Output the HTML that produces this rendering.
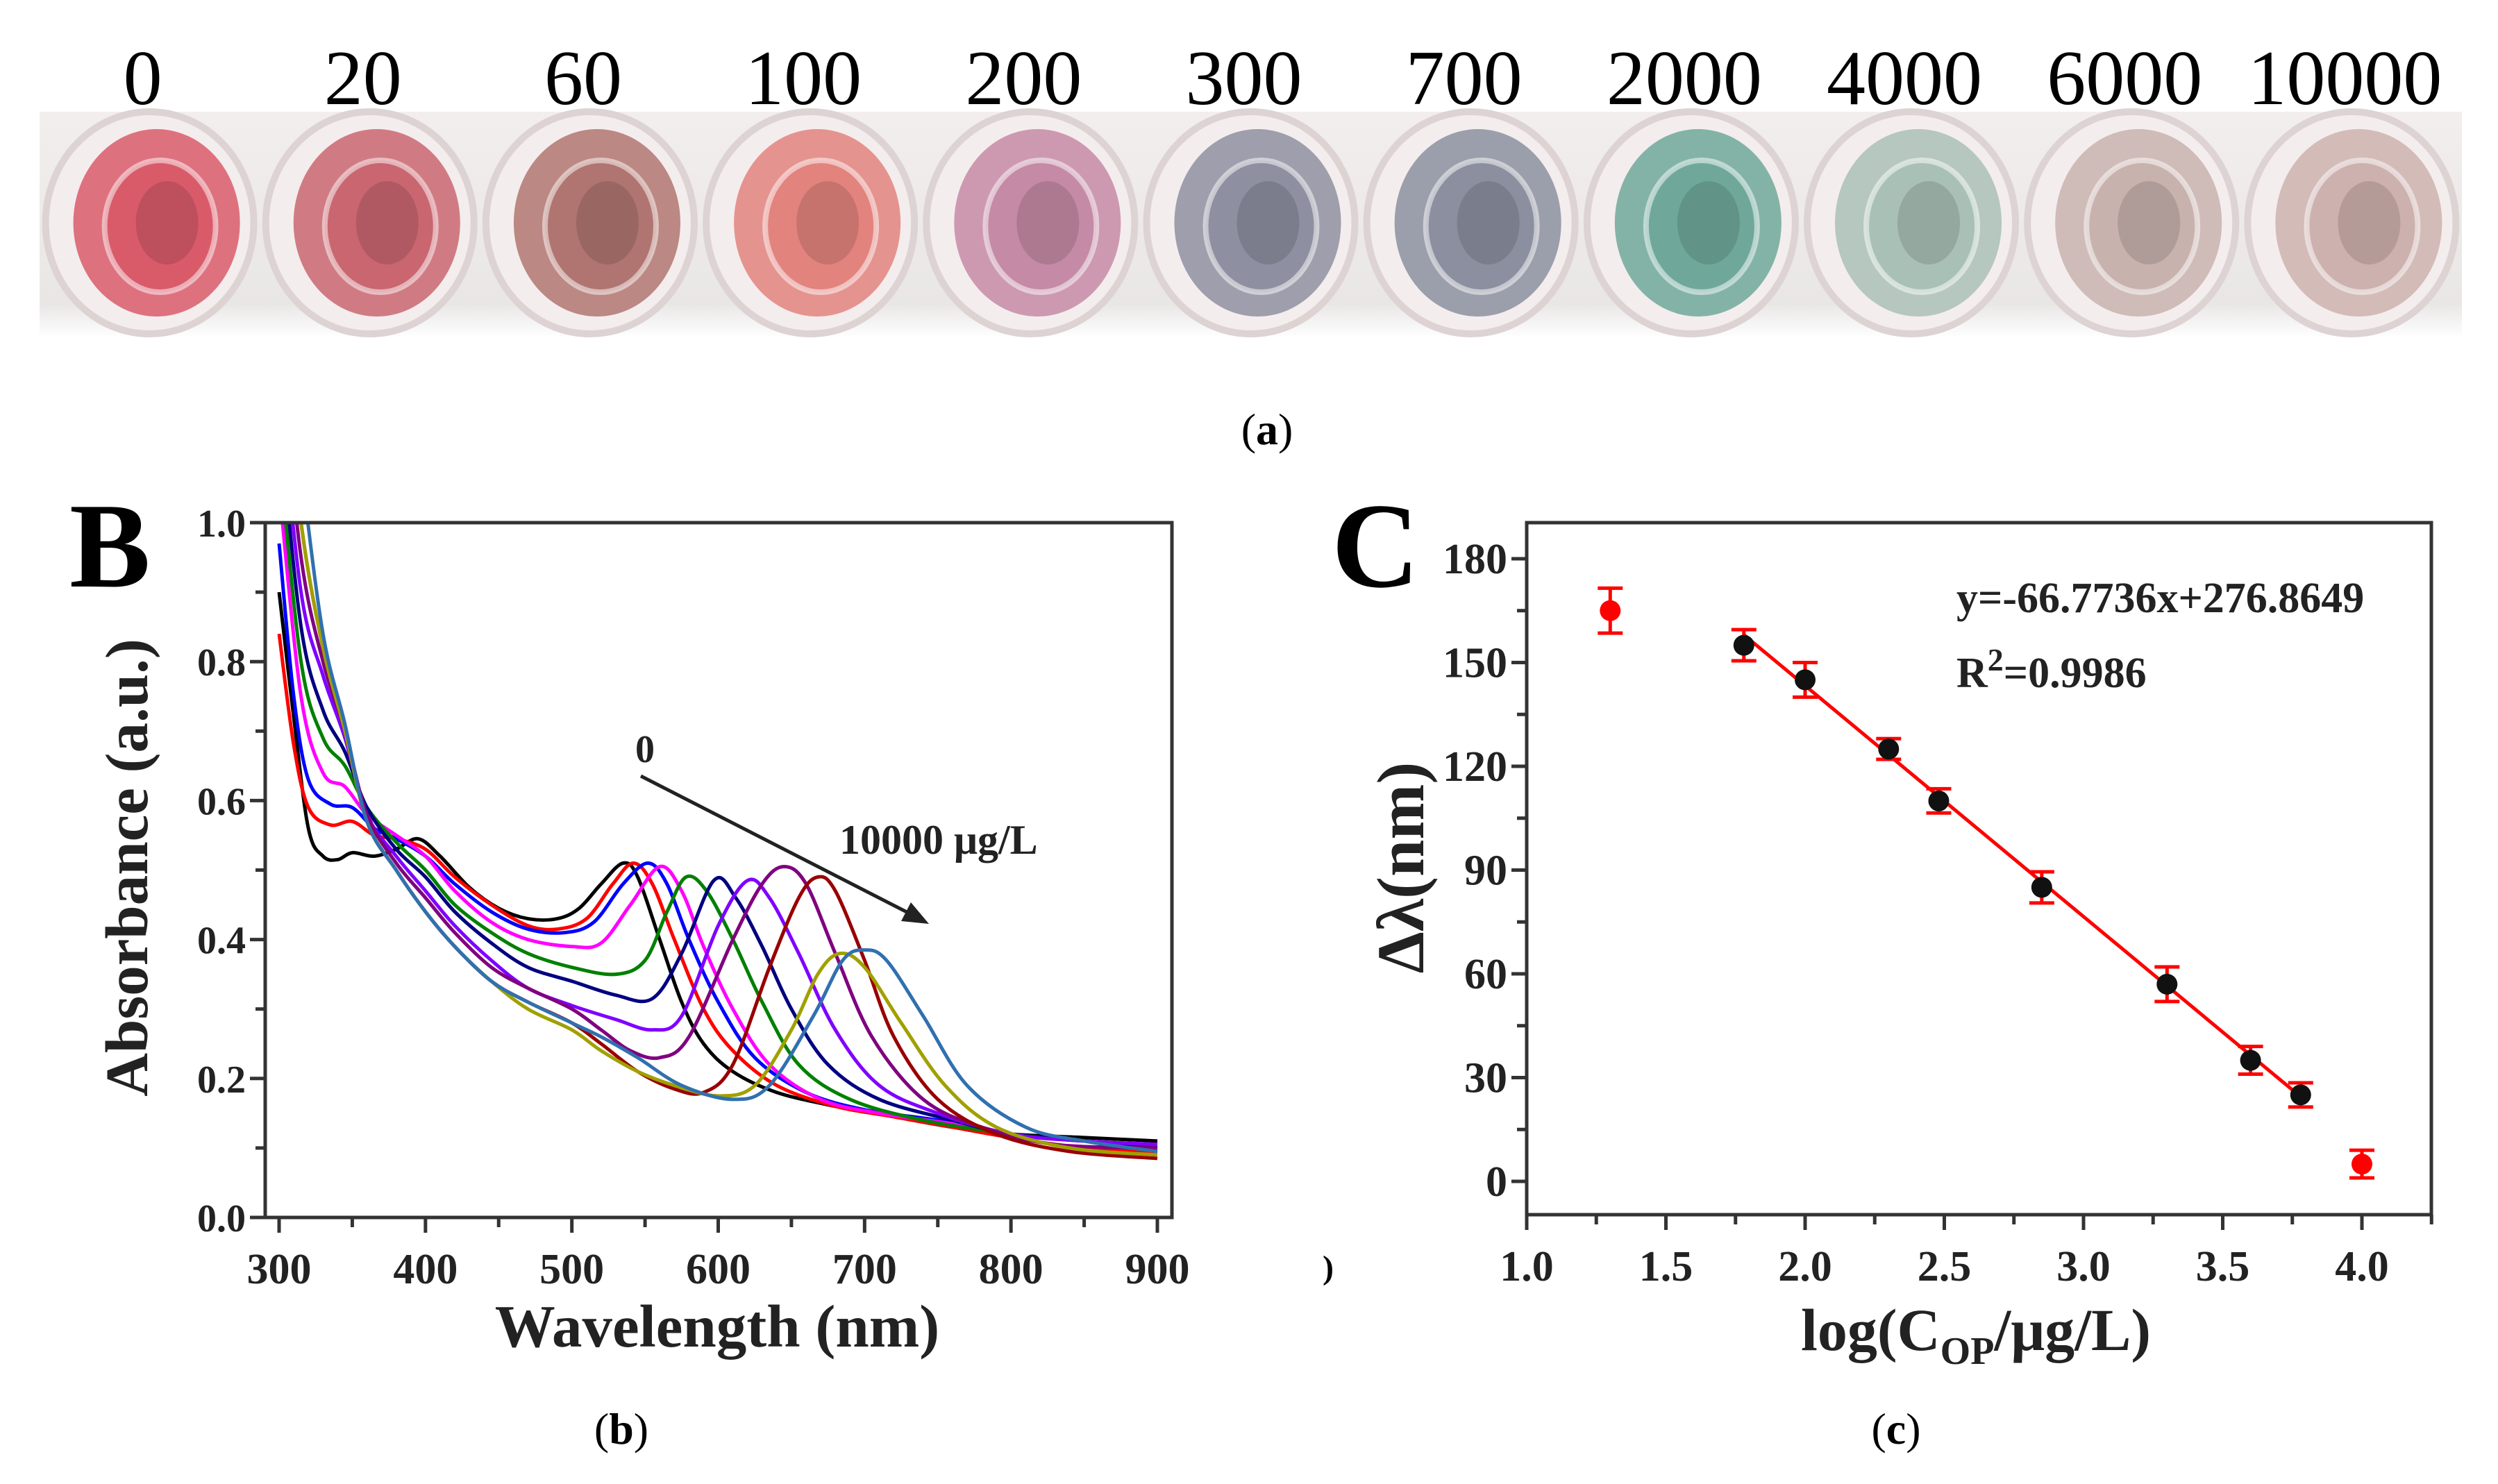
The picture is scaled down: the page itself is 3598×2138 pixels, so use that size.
<!DOCTYPE html>
<html><head><meta charset="utf-8">
<style>
html,body{margin:0;padding:0;background:#fff;}
svg{display:block;}
text{font-family:"Liberation Serif",serif;}
</style></head>
<body>
<svg id="fig" width="3598" height="2138" viewBox="0 0 3598 2138" xmlns="http://www.w3.org/2000/svg">
<defs>
<linearGradient id="strip" x1="0" y1="0" x2="0" y2="1">
<stop offset="0" stop-color="#f3eeee"/><stop offset="0.85" stop-color="#e9e6e6"/><stop offset="1" stop-color="#ffffff"/>
</linearGradient>
</defs>
<rect x="57" y="161" width="3489" height="326" fill="url(#strip)"/>
<g id="wells"></g>
<g id="wellLabels"></g>
<text x="1825" y="640" font-size="64" text-anchor="middle">(<tspan font-weight="bold">a</tspan>)</text>

<g id="panelB"></g>
<text x="100" y="845" font-size="175" font-weight="bold">B</text>
<text x="895" y="2080" font-size="64" text-anchor="middle">(<tspan font-weight="bold">b</tspan>)</text>

<g id="panelC"></g>
<text x="1918" y="845" font-size="175" font-weight="bold">C</text>
<text x="1905" y="1842" font-size="48" font-weight="bold">)</text>
<text x="2731" y="2080" font-size="64" text-anchor="middle">(<tspan font-weight="bold">c</tspan>)</text>
</svg>
<script>
const NS="http://www.w3.org/2000/svg";
function mk(tag,attrs,parent,txt){const e=document.createElementNS(NS,tag);for(const k in attrs)e.setAttribute(k,attrs[k]);if(txt!==undefined)e.textContent=txt;parent.appendChild(e);return e;}

const wellLabels=["0","20","60","100","200","300","700","2000","4000","6000","10000"];
const wellColors=["#d95b6a","#c96670","#b07570","#e2837e","#c58aa6","#8e8fa0","#8b8f9f","#6fa89a","#a9c0b6","#c8b2ad","#cdb1ae"];
const wellG=document.getElementById('wells');
const labG=document.getElementById('wellLabels');
const stripL=57, stripW=3489, nW=wellLabels.length, step=stripW/nW;
wellLabels.forEach((lab,i)=>{
  const cx=stripL+step*(i+0.5), cy=321;
  const g=mk('g',{},wellG);
  
  
  mk('ellipse',{cx:cx,cy:cy,rx:150,ry:160,fill:'#f4eded',stroke:'#ddd3d3','stroke-width':10},g);
  mk('ellipse',{cx:cx+10,cy:cy,rx:120,ry:135,fill:wellColors[i],opacity:0.85},g);
  mk('ellipse',{cx:cx+15,cy:cy+5,rx:80,ry:95,fill:wellColors[i],stroke:'rgba(255,255,255,0.5)','stroke-width':8},g);
  mk('ellipse',{cx:cx+25,cy:cy,rx:45,ry:60,fill:'rgba(0,0,0,0.12)'},g);
  const t=mk('text',{x:cx-10,y:150,'font-size':112,'text-anchor':'middle'},labG,lab);
  
  
});

const bXTicks=[300,400,500,600,700,800,900];
const bYTicks=["0.0","0.2","0.4","0.6","0.8","1.0"];
const bColors=["#000000","#ff0000","#0000ff","#ff00ff","#008000","#000080","#8000ff","#800080","#990000","#a0a000","#3070b0"];
const s0=[[300,0.90],[310,0.72],[320,0.56],[330,0.52],[340,0.515],[350,0.525],[365,0.52],[380,0.53],[395,0.545],[410,0.52],[430,0.475],[450,0.445],[470,0.43],[490,0.43],[505,0.445],[520,0.48],[535,0.51],[545,0.49],[560,0.40],[575,0.31],[590,0.25],[610,0.21],[640,0.18],[680,0.16],[720,0.145],[760,0.13],[800,0.12],[850,0.115],[900,0.11]];
const s20=[[300,0.84],[310,0.68],[320,0.59],[335,0.565],[350,0.57],[365,0.55],[380,0.545],[400,0.53],[420,0.49],[445,0.45],[470,0.42],[490,0.415],[510,0.43],[528,0.48],[542,0.51],[555,0.48],[570,0.40],[590,0.30],[610,0.24],[640,0.19],[680,0.16],[720,0.145],[760,0.13],[800,0.115],[850,0.10],[900,0.095]];
const s60=[[300,0.97],[310,0.75],[320,0.63],[335,0.595],[350,0.59],[365,0.56],[380,0.545],[400,0.52],[420,0.48],[445,0.44],[470,0.415],[495,0.41],[515,0.425],[535,0.48],[552,0.51],[565,0.48],[580,0.40],[600,0.31],[625,0.23],[660,0.18],[700,0.155],[750,0.14],[800,0.12],[850,0.11],[900,0.105]];
const s100=[[300,1.05],[315,0.75],[330,0.64],[345,0.62],[360,0.58],[380,0.55],[400,0.52],[420,0.47],[445,0.425],[470,0.40],[500,0.39],[520,0.395],[540,0.45],[560,0.505],[575,0.47],[590,0.39],[610,0.30],[635,0.22],[670,0.17],[710,0.15],[760,0.135],[800,0.12],[850,0.11],[900,0.105]];
const s200=[[300,1.1],[315,0.8],[330,0.69],[345,0.65],[360,0.59],[380,0.54],[400,0.50],[420,0.45],[445,0.41],[470,0.38],[500,0.36],[530,0.35],[550,0.37],[565,0.44],[578,0.49],[592,0.47],[610,0.40],[630,0.31],[655,0.22],[690,0.17],[740,0.14],[800,0.12],[850,0.11],[900,0.10]];
const s300=[[300,1.15],[315,0.85],[330,0.73],[345,0.67],[360,0.59],[380,0.53],[400,0.49],[420,0.44],[445,0.395],[470,0.36],[500,0.34],[530,0.32],[555,0.315],[575,0.38],[597,0.485],[612,0.46],[630,0.39],[650,0.30],[675,0.22],[710,0.17],[760,0.14],[800,0.12],[850,0.11],[900,0.10]];
const s700=[[300,1.2],[315,0.9],[330,0.78],[345,0.69],[360,0.58],[380,0.52],[400,0.47],[420,0.42],[445,0.37],[470,0.33],[500,0.305],[530,0.285],[555,0.27],[575,0.29],[600,0.42],[620,0.485],[635,0.46],[655,0.38],[680,0.27],[710,0.19],[750,0.15],[800,0.12],[850,0.11],[900,0.105]];
const s2000=[[300,1.25],[315,0.95],[330,0.80],[345,0.70],[360,0.58],[380,0.51],[400,0.46],[420,0.41],[445,0.36],[470,0.33],[500,0.30],[520,0.27],[540,0.24],[560,0.23],[580,0.26],[610,0.40],[630,0.48],[645,0.505],[660,0.48],[680,0.38],[705,0.26],[740,0.17],[780,0.13],[830,0.105],[900,0.10]];
const s4000=[[300,1.3],[315,1.0],[330,0.82],[345,0.70],[360,0.57],[380,0.50],[400,0.44],[420,0.39],[445,0.34],[470,0.31],[500,0.28],[520,0.25],[545,0.21],[570,0.185],[590,0.18],[610,0.22],[635,0.36],[655,0.46],[668,0.49],[680,0.47],[700,0.37],[720,0.26],[750,0.17],[790,0.12],[840,0.095],[900,0.085]];
const s6000=[[300,1.3],[315,1.0],[330,0.82],[345,0.70],[360,0.57],[380,0.50],[400,0.44],[420,0.39],[445,0.34],[470,0.30],[500,0.27],[520,0.24],[545,0.21],[570,0.19],[600,0.175],[625,0.19],[650,0.27],[668,0.35],[683,0.38],[700,0.36],[725,0.28],[755,0.19],[790,0.13],[840,0.10],[900,0.09]];
const s10000=[[300,1.35],[315,1.08],[330,0.84],[345,0.71],[360,0.57],[380,0.50],[400,0.44],[420,0.39],[445,0.34],[470,0.31],[500,0.28],[520,0.26],[545,0.23],[575,0.19],[610,0.17],[635,0.19],[665,0.29],[685,0.37],[700,0.385],[715,0.37],[740,0.29],[770,0.19],[810,0.13],[850,0.11],[900,0.095]];
const bSeries=[s0,s20,s60,s100,s200,s300,s700,s2000,s4000,s6000,s10000];

const cXTicks=["1.0","1.5","2.0","2.5","3.0","3.5","4.0"];
const cYTicks=[0,30,60,90,120,150,180];
const cLinX=[1.78,2.0,2.3,2.48,2.85,3.3,3.6,3.78];
const cLinY=[155,145,125,110,85,57,35,25];
const cLinErr=[4.5,5,3,3.5,4.5,5,4,3.5];
const cOutX=[1.30,4.0];
const cOutY=[165,5];
const cOutErr=[6.5,4];
const fitSlope=-66.7736, fitIntercept=276.8649;

(function(){
  const g=document.getElementById('panelB');
  const L=382,R=1688,T=753,B=1754;
  const xs=v=>402+(v-300)*(1667-402)/600;
  const ys=v=>1754-v*(1754-753);
  const clip=mk('clipPath',{id:'clipB'},g);
  mk('rect',{x:L,y:T,width:R-L,height:B-T},clip);
  const curves=mk('g',{'clip-path':'url(#clipB)'},g);
  
  
  bSeries.forEach((s,i)=>{
    const p=s.map(d=>[xs(d[0]),ys(d[1])]);
    let d='M'+p[0][0]+','+p[0][1];
    for(let k=0;k<p.length-1;k++){
      const p0=p[Math.max(0,k-1)],p1=p[k],p2=p[k+1],p3=p[Math.min(p.length-1,k+2)];
      const c1=[p1[0]+(p2[0]-p0[0])/6,p1[1]+(p2[1]-p0[1])/6];
      const c2=[p2[0]-(p3[0]-p1[0])/6,p2[1]-(p3[1]-p1[1])/6];
      d+=' C'+c1[0]+','+c1[1]+' '+c2[0]+','+c2[1]+' '+p2[0]+','+p2[1];
    }
    const path=mk('path',{d:d,fill:'none',stroke:bColors[i],'stroke-width':5},curves);
    
    
  });
  const frame=mk('rect',{x:L,y:T,width:R-L,height:B-T,fill:'none',stroke:'#333','stroke-width':5},g);
  
  
  for(let v=300;v<=900;v+=50){
    const x=xs(v),major=(v%100===0);
    mk('line',{x1:x,y1:B,x2:x,y2:B+(major?22:14),stroke:'#333','stroke-width':5},g);
  }
  bXTicks.forEach(v=>{
    const t=mk('text',{x:xs(v),y:B+95,'font-size':62,'font-weight':'bold','text-anchor':'middle',fill:'#222'},g,String(v));
    
    
  });
  for(let k=0;k<=10;k++){
    const y=ys(k*0.1),major=(k%2===0);
    mk('line',{x1:L,y1:y,x2:L-(major?22:14),y2:y,stroke:'#333','stroke-width':5},g);
  }
  bYTicks.forEach(v=>{
    const t=mk('text',{x:L-28,y:ys(parseFloat(v))+20,'font-size':56,'font-weight':'bold','text-anchor':'end',fill:'#222'},g,v);
    
    
  });
  const xt=mk('text',{x:1033,y:1940,'font-size':87,'font-weight':'bold','text-anchor':'middle',fill:'#222'},g,'Wavelength (nm)');
  
  
  const yt=mk('text',{x:0,y:0,'font-size':87,'font-weight':'bold','text-anchor':'middle',fill:'#222',transform:'translate(212,1250) rotate(-90)'},g,'Absorbance (a.u.)');
  
  
  const z=mk('text',{x:929,y:1098,'font-size':56,'font-weight':'bold','text-anchor':'middle',fill:'#222'},g,'0');
  
  
  const a=mk('line',{x1:923,y1:1118,x2:1312,y2:1317,stroke:'#222','stroke-width':5},g);
  
  
  mk('polygon',{points:'1338,1331 1298,1327 1312,1300',fill:'#222'},g);
  const e=mk('text',{x:1209,y:1230,'font-size':60,'font-weight':'bold',fill:'#222'},g,'10000 μg/L');
  
  
})();

(function(){
  const g=document.getElementById('panelC');
  const L=2199,R=3502,T=753,B=1750;
  const xs=v=>2199+(v-1.0)*(3402-2199)/3;
  const ys=v=>1702-v*(1702-805)/180;
  const frame=mk('rect',{x:L,y:T,width:R-L,height:B-T,fill:'none',stroke:'#333','stroke-width':5},g);
  
  
  for(let k=0;k<=13;k++){
    const v=1.0+k*0.25;if(v>4.26)break;
    const x=xs(v),major=(k%2===0);
    mk('line',{x1:x,y1:B,x2:x,y2:B+(major?22:14),stroke:'#333','stroke-width':5},g);
  }
  cXTicks.forEach(v=>{
    const t=mk('text',{x:xs(parseFloat(v)),y:B+95,'font-size':62,'font-weight':'bold','text-anchor':'middle',fill:'#222'},g,v);
    
    
  });
  for(let v=0;v<=180;v+=15){
    const y=ys(v),major=(v%30===0);
    mk('line',{x1:L,y1:y,x2:L-(major?22:14),y2:y,stroke:'#333','stroke-width':5},g);
  }
  cYTicks.forEach(v=>{
    const t=mk('text',{x:L-28,y:ys(v)+21,'font-size':62,'font-weight':'bold','text-anchor':'end',fill:'#222'},g,String(v));
    
    
  });
  const x0=cLinX[0],x1=cLinX[cLinX.length-1];
  const fit=mk('line',{x1:xs(x0),y1:ys(fitSlope*x0+fitIntercept),x2:xs(x1),y2:ys(fitSlope*x1+fitIntercept),stroke:'#ff0000','stroke-width':5},g);
  
  
  function pt(x,y,err,fill,name){
    const pg=mk('g',{},g);
    
    
    const cx=xs(x),t=ys(y+err),b=ys(y-err);
    mk('line',{x1:cx,y1:t,x2:cx,y2:b,stroke:'#ff0000','stroke-width':5},pg);
    mk('line',{x1:cx-18,y1:t,x2:cx+18,y2:t,stroke:'#ff0000','stroke-width':5},pg);
    mk('line',{x1:cx-18,y1:b,x2:cx+18,y2:b,stroke:'#ff0000','stroke-width':5},pg);
    mk('circle',{cx:cx,cy:ys(y),r:15,fill:fill},pg);
  }
  cLinX.forEach((x,i)=>pt(x,cLinY[i],cLinErr[i],'#111','point-'+i));
  cOutX.forEach((x,i)=>pt(x,cOutY[i],cOutErr[i],'#ff0000','outlier-'+i));
  const eq=mk('text',{x:2818,y:882,'font-size':62,'font-weight':'bold',fill:'#222'},g,'y=-66.7736x+276.8649');
  
  
  const r2=mk('text',{x:2818,y:990,'font-size':62,'font-weight':'bold',fill:'#222'},g);
  
  
  r2.innerHTML='R<tspan dy="-24" font-size="46">2</tspan><tspan dy="24">=0.9986</tspan>';
  const xt=mk('text',{x:2846,y:1945,'font-size':86,'font-weight':'bold','text-anchor':'middle',fill:'#222'},g);
  xt.innerHTML='log(C<tspan dy="20" font-size="56">OP</tspan><tspan dy="-20">/μg/L)</tspan>';
  
  
  const yt=mk('text',{x:0,y:0,'font-size':96,'font-weight':'bold','text-anchor':'middle',fill:'#222',transform:'translate(2050,1250) rotate(-90)'},g,'Δλ(nm)');
  
  
})();
</script>
</body></html>
